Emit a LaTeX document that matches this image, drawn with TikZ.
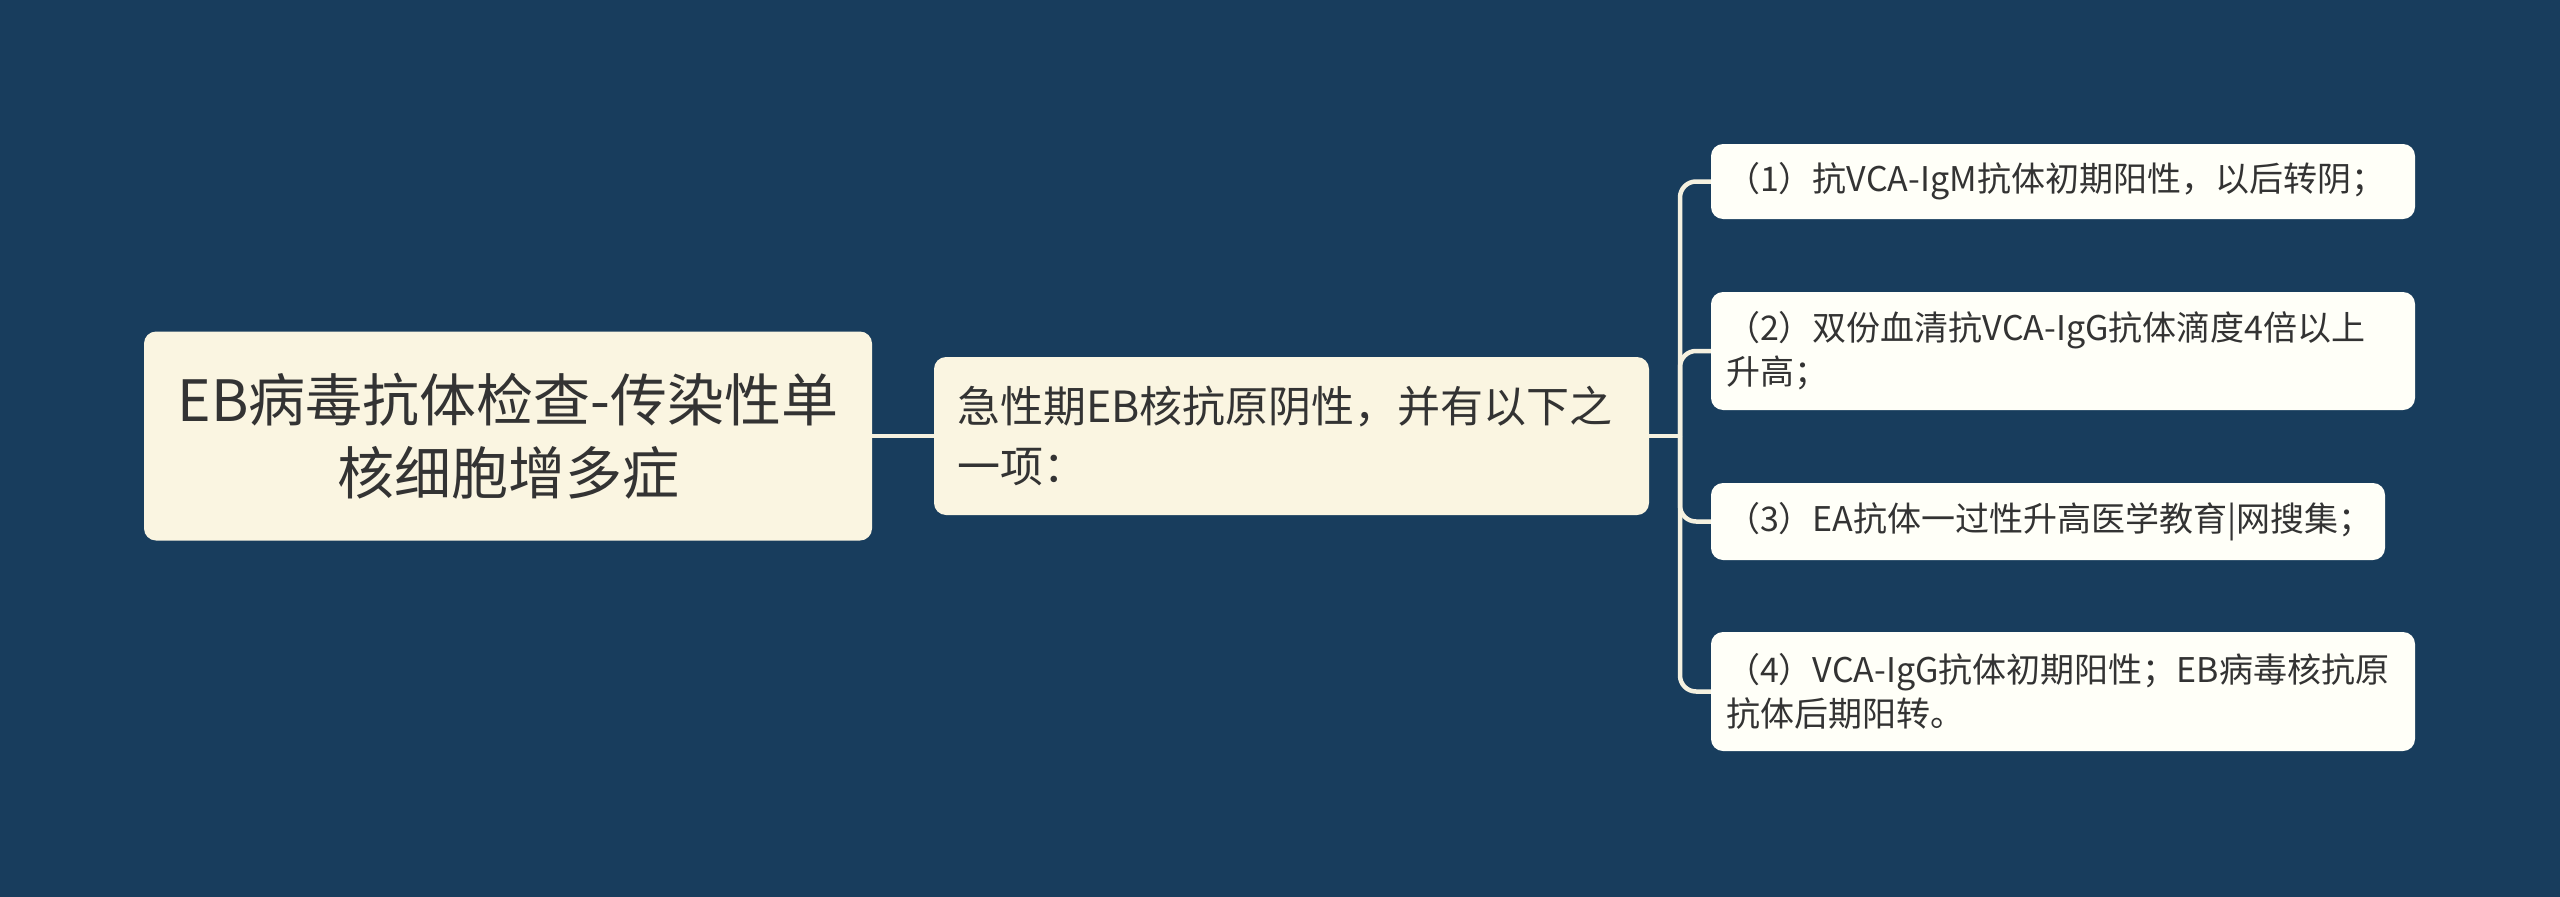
\documentclass[tikz,border=0pt]{standalone}
\usepackage{fontspec}
\setmainfont{Noto Sans CJK SC}
\definecolor{bg}{RGB}{24,61,93}
\definecolor{cream}{RGB}{250,245,225}
\definecolor{leaffill}{RGB}{255,255,248}
\definecolor{ink}{RGB}{51,51,51}
\definecolor{wire}{RGB}{245,241,224}
\begin{document}
\begin{tikzpicture}[x=1pt,y=-1pt,
  rootbox/.style={fill=cream, rounded corners=12pt, inner sep=0pt, text=ink, align=center,
    font=\fontsize{57}{73}\selectfont},
  midbox/.style={fill=cream, rounded corners=12pt, inner xsep=23pt, inner ysep=0pt, text=ink, align=left,
    font=\fontsize{43}{60}\selectfont},
  leafbox/.style={fill=leaffill, rounded corners=12pt, inner xsep=15pt, inner ysep=0pt, text=ink, align=left,
    font=\fontsize{34}{44}\selectfont},
  wireline/.style={draw=wire, line width=4.5pt},
]
\useasboundingbox (0,0) rectangle (2560,897);
\fill[bg] (0,0) rectangle (2560,897);

\node[rootbox, minimum width=728pt, minimum height=209pt] (root) at (508,436)
  {EB病毒抗体检查-传染性单\\核细胞增多症};
\node[midbox, minimum width=715pt, minimum height=158pt, text width=669pt] (mid) at (1291.5,436)
  {急性期EB核抗原阴性，并有以下之\\一项：};
\node[leafbox, minimum width=704pt, minimum height=75pt, text width=674pt] (l1) at (2063,181.5)
  {（1）抗VCA-IgM抗体初期阳性，以后转阴；};
\node[leafbox, minimum width=704pt, minimum height=118pt, text width=674pt] (l2) at (2063,351)
  {（2）双份血清抗VCA-IgG抗体滴度4倍以上\\升高；};
\node[leafbox, minimum width=674pt, minimum height=77pt, text width=644pt] (l3) at (2048,521.5)
  {（3）EA抗体一过性升高医学教育|网搜集；};
\node[leafbox, minimum width=704pt, minimum height=119pt, text width=674pt] (l4) at (2063,691.5)
  {（4）VCA-IgG抗体初期阳性；EB病毒核抗原\\抗体后期阳转。};

\coordinate (trunk) at (1680,436);
\draw[wireline] (root.east) -- (mid.west);
\draw[wireline] (mid.east) -- (trunk);
\foreach \l in {l1,l2,l3,l4}{
  \draw[wireline, rounded corners=16pt] (trunk) |- (\l.west);
}
\end{tikzpicture}
\end{document}
